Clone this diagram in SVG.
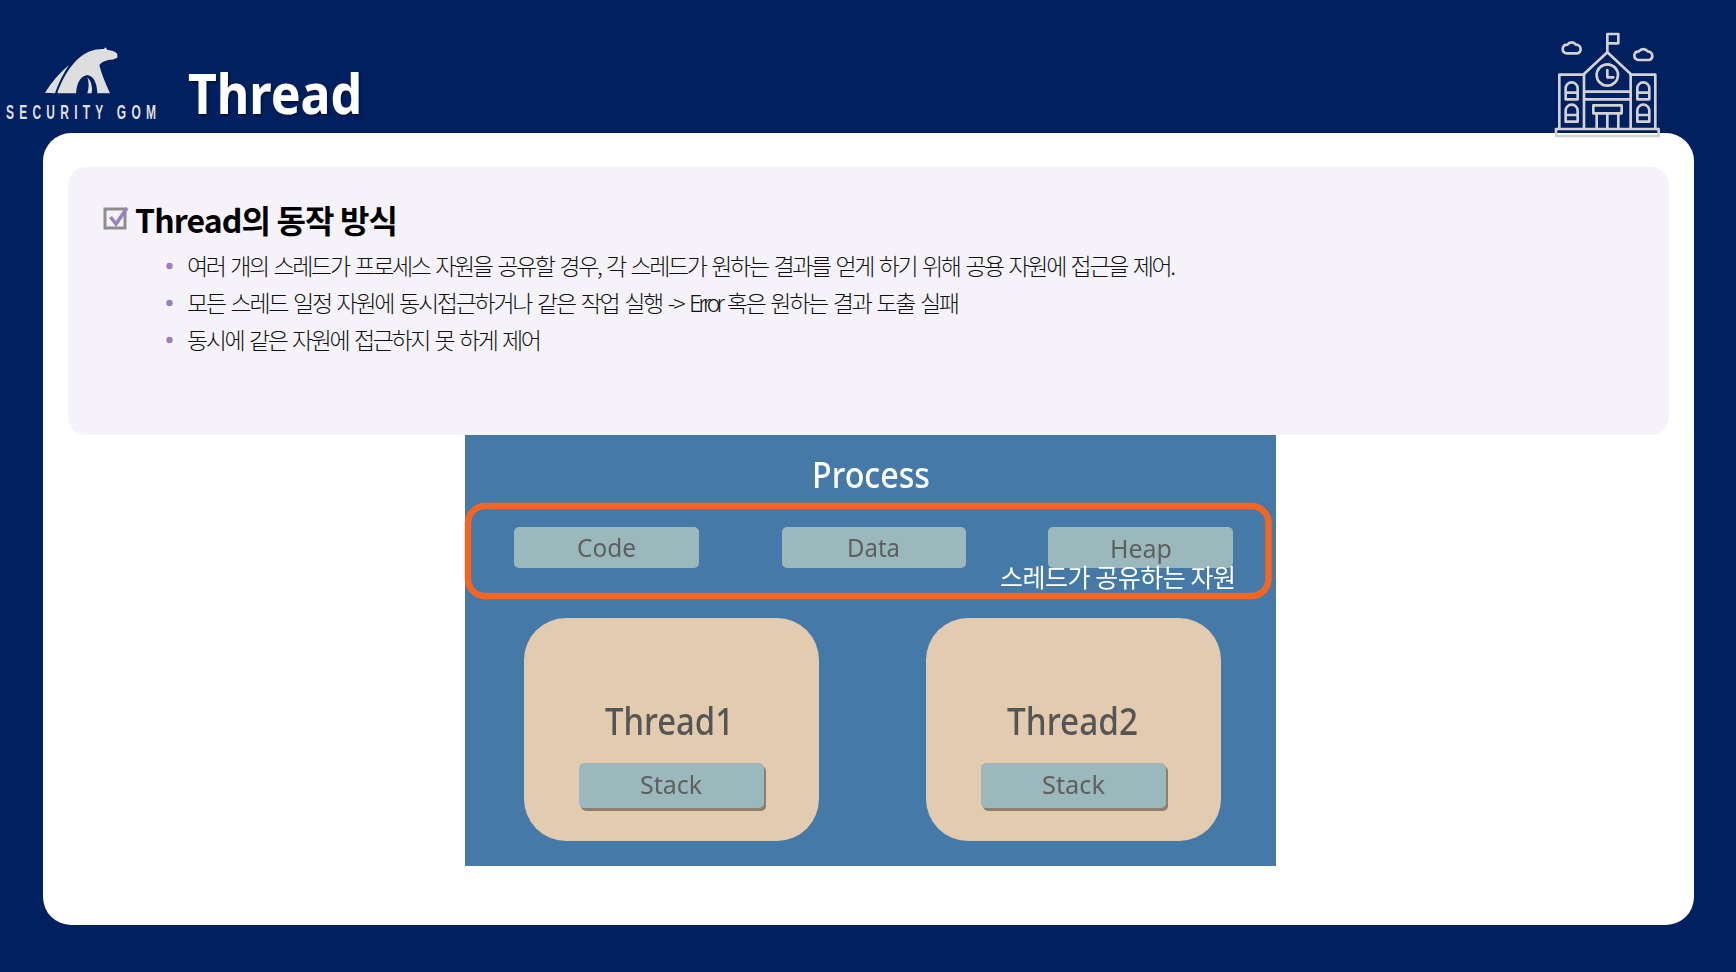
<svg xmlns="http://www.w3.org/2000/svg" width="1736" height="972" viewBox="0 0 1736 972">
<style>
.kr{font-family:"Noto Sans CJK KR","Noto Sans",sans-serif}
.body{font-size:23px;fill:#111;font-weight:300;word-spacing:3px}
.img{font-family:"Noto Sans","Noto Sans CJK KR",sans-serif}
.box{fill:#9bb8bc}
.lbl{fill:#5f5f5f;font-size:26px;text-anchor:start}
.thr{fill:#e3cbb0}
.ttl{fill:#555;font-size:38px;font-weight:500}
.ico{fill:none;stroke:#d2d2d2;stroke-width:8;stroke-linejoin:round;stroke-linecap:round}
</style>
<defs>
<filter id="sh" x="-10%" y="-20%" width="120%" height="140%"><feDropShadow dx="1.5" dy="2" stdDeviation="1.2" flood-color="#000" flood-opacity=".45"/></filter>
<filter id="bl" x="-2%" y="-2%" width="104%" height="104%"><feGaussianBlur stdDeviation="0.6"/></filter>
</defs>
<rect width="1736" height="972" fill="#002060"/>
<g id="logo">
<g transform="translate(0 20) scale(.3333)" fill="#dedede">
<path d="M135 218 Q165 170 207 135 Q180 175 165 220Z"/>
<path d="M172 220 C188 170 225 110 270 94 Q290 86 312 87 L316 82 L322 89 Q345 92 352 102 L352 113 Q340 120 325 120 Q305 125 298 135 Q305 165 330 220 L292 220 Q290 170 262 165 Q232 170 228 220Z"/>
<path d="M262 172 Q280 190 275 220 L262 220 Q270 195 262 172Z"/>
</g>
<text transform="translate(6 119) scale(.6 1)" font-family="'Liberation Sans',sans-serif" font-size="20" font-weight="700" fill="#dedede" textLength="250" lengthAdjust="spacing">SECURITY GOM</text>
</g>
<g id="title"><text x="188" y="114" class="img" font-size="56" font-weight="700" fill="#fff" filter="url(#sh)" textLength="174" lengthAdjust="spacingAndGlyphs">Thread</text></g>
<rect id="card" x="43" y="133" width="1651" height="792" rx="28" fill="#fff"/>
<g id="building">
<g transform="translate(1530 20) scale(.3333)" class="ico">
<path d="M232 95V42H265V70H232"/>
<path d="M110 100a14 14 0 0 1-12-14a14 14 0 0 1 14-12a16 16 0 0 1 26 0a14 14 0 0 1 14 14a12 12 0 0 1-10 12Z"/>
<path d="M325 120a14 14 0 0 1-12-14a14 14 0 0 1 14-12a16 16 0 0 1 26 0a14 14 0 0 1 14 14a12 12 0 0 1-10 12Z"/>
<path d="M162 162L232 97L302 162V325M162 162V325M162 215H302M162 238H302"/>
<circle cx="232" cy="165" r="32"/>
<path d="M232 150V172H250"/>
<path d="M88 325V164H162M302 164H376V325"/>
<path d="M107 238V205a18 18 0 0 1 36 0V238ZM107 218H143"/>
<path d="M107 305V272a18 18 0 0 1 36 0V305ZM107 285H143"/>
<path d="M322 238V205a18 18 0 0 1 36 0V238ZM322 218H358"/>
<path d="M322 305V272a18 18 0 0 1 36 0V305ZM322 285H358"/>
<path d="M190 256H275V280H190ZM200 280V325M232 280V325M265 280V325"/>
<rect x="78" y="327" width="308" height="21"/>
</g>
</g>
<g id="panel">
<rect x="68" y="167" width="1601" height="268" rx="18" fill="#f5f3f9"/>
<rect x="105" y="209" width="20" height="19" fill="none" stroke="#8d8d8d" stroke-width="3"/>
<path d="M110.500 217L116 224L127 208" fill="none" stroke="#9b7fc4" stroke-width="3.500"/>
<text x="135" y="233" class="kr" font-size="32" font-weight="700" fill="#000" textLength="263" lengthAdjust="spacing">Thread의 동작 방식</text>
<g fill="#9b7fbc"><circle cx="169.500" cy="266" r="3.200"/><circle cx="169.500" cy="303" r="3.200"/><circle cx="169.500" cy="340" r="3.200"/></g>
<text x="187" y="275" class="kr body" textLength="989" lengthAdjust="spacing">여러 개의 스레드가 프로세스 자원을 공유할 경우, 각 스레드가 원하는 결과를 얻게 하기 위해 공용 자원에 접근을 제어.</text>
<text x="187" y="312" class="kr body" textLength="773" lengthAdjust="spacing">모든 스레드 일정 자원에 동시접근하거나 같은 작업 실행 -&gt; <tspan letter-spacing="-1.600">Error</tspan> 혹은 원하는 결과 도출 실패</text>
<text x="187" y="349" class="kr body" textLength="355" lengthAdjust="spacing">동시에 같은 자원에 접근하지 못 하게 제어</text>
</g>
<g id="process" filter="url(#bl)">
<rect x="465" y="435" width="811" height="431" fill="#457aa8"/>
<text x="812" y="488" class="img" font-size="37" font-weight="500" fill="#fff" textLength="118" lengthAdjust="spacingAndGlyphs">Process</text>
<g id="shared">
<rect x="514" y="527" width="185" height="41" rx="5" class="box"/>
<rect x="782" y="527" width="184" height="41" rx="5" class="box"/>
<rect x="1048" y="527" width="185" height="41" rx="5" class="box"/>
<text x="577" y="557" class="img lbl" textLength="59" lengthAdjust="spacingAndGlyphs">Code</text>
<text x="847" y="557" class="img lbl" textLength="53" lengthAdjust="spacingAndGlyphs">Data</text>
<text x="1110" y="558" class="img lbl" textLength="62" lengthAdjust="spacingAndGlyphs">Heap</text>
<rect x="468" y="506" width="800.500" height="90" rx="17" fill="none" stroke="#f26522" stroke-width="6.500"/>
<text x="1000" y="587" class="kr" font-size="25" fill="#fff" textLength="236" lengthAdjust="spacing">스레드가 공유하는 자원</text>
</g>
<g id="thread1">
<rect x="524" y="618" width="295" height="223" rx="42" class="thr"/>
<text x="605" y="735" class="img ttl" textLength="129" lengthAdjust="spacingAndGlyphs">Thread1</text>
<rect x="581" y="766" width="185" height="45" rx="5" fill="#8c7f70"/>
<rect x="579" y="763" width="185" height="45" rx="5" class="box"/>
<text x="640" y="794" class="img lbl" textLength="62" lengthAdjust="spacingAndGlyphs">Stack</text>
</g>
<g id="thread2">
<rect x="926" y="618" width="295" height="223" rx="42" class="thr"/>
<text x="1007" y="735" class="img ttl" textLength="131" lengthAdjust="spacingAndGlyphs">Thread2</text>
<rect x="983" y="766" width="185" height="45" rx="5" fill="#8c7f70"/>
<rect x="981" y="763" width="185" height="45" rx="5" class="box"/>
<text x="1042" y="794" class="img lbl" textLength="63" lengthAdjust="spacingAndGlyphs">Stack</text>
</g>
</g>
</svg>
